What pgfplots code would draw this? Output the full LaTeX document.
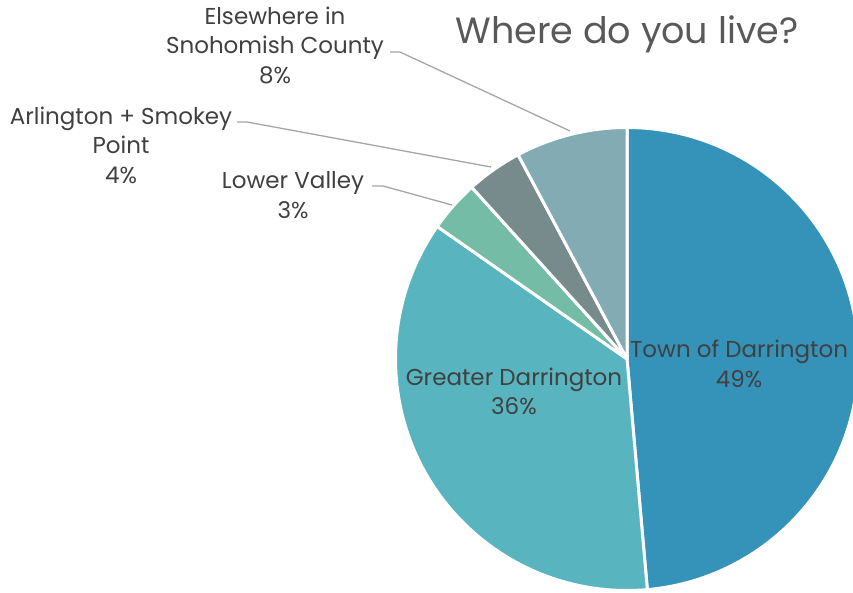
\documentclass[border=0pt]{standalone}
\usepackage{pgfplots}
\usepackage{pgfplotstable}
\pgfplotsset{compat=1.18}
\usepackage{fontspec}
\setmainfont{Poppins}
\definecolor{cTown}{HTML}{3592B8}
\definecolor{cGreater}{HTML}{58B4BE}
\definecolor{cLower}{HTML}{74BCA6}
\definecolor{cArl}{HTML}{778B8C}
\definecolor{cElse}{HTML}{83ABB4}
\definecolor{txt}{HTML}{404040}
\definecolor{ttl}{HTML}{595959}
\definecolor{lead}{HTML}{A6A6A6}
\pgfplotstableread[col sep=comma]{
region,value,color
Town of Darrington,48.6,cTown
Greater Darrington,36.1,cGreater
Lower Valley,3.6,cLower
Arlington + Smokey Point,3.9,cArl
Elsewhere in Snohomish County,7.8,cElse
}\piedata
\begin{document}
\begin{tikzpicture}
\begin{axis}[at={(0,0)}, anchor=south west, scale only axis,
  width=853pt, height=592pt, xmin=0, xmax=853, ymin=0, ymax=592,
  hide axis, clip=false]
\pgfplotsextra{
  \pgfplotstablegetrowsof{\piedata}
  \pgfmathtruncatemacro{\nrows}{\pgfplotsretval-1}
  \gdef\cumang{90}
  \foreach \i in {0,...,\nrows}{
    \pgfplotstablegetelem{\i}{value}\of{\piedata}
    \pgfmathsetmacro{\endang}{\cumang-3.6*\pgfplotsretval}
    \pgfplotstablegetelem{\i}{color}\of{\piedata}
    \edef\slicecolor{\pgfplotsretval}
    \fill[fill=\slicecolor, draw=white, line width=3pt, line join=round]
      (axis cs:627,233) -- ++(\cumang:231.5pt)
      arc[start angle=\cumang, end angle=\endang, radius=231.5pt] -- cycle;
    \xdef\cumang{\endang}
  }
}
\draw[lead, line width=1.3pt] (axis cs:390,540) -- (axis cs:400,540) -- (axis cs:570,461);
\draw[lead, line width=1.3pt] (axis cs:237,470) -- (axis cs:247,470) -- (axis cs:491,425);
\draw[lead, line width=1.3pt] (axis cs:372,406) -- (axis cs:383,406) -- (axis cs:452,387);
\node[text=ttl, font=\fontsize{36.5}{42}\selectfont] at (axis cs:627,558) {Where do you live?};
\node[text=txt, align=center, font=\fontsize{23}{29.5}\selectfont] at (axis cs:739,228) {Town of Darrington\\49\%};
\node[text=txt, align=center, font=\fontsize{23}{29.5}\selectfont] at (axis cs:514,200.5) {Greater Darrington\\36\%};
\node[text=txt, align=center, font=\fontsize{23}{29.5}\selectfont] at (axis cs:275,547) {Elsewhere in\\Snohomish County\\8\%};
\node[text=txt, align=center, font=\fontsize{23}{29.5}\selectfont] at (axis cs:121,447) {Arlington + Smokey\\Point\\4\%};
\node[text=txt, align=center, font=\fontsize{23}{29.5}\selectfont] at (axis cs:293,397) {Lower Valley\\3\%};
\end{axis}
\pgfresetboundingbox
\path[use as bounding box] (0,0) rectangle (853pt,592pt);
\end{tikzpicture}
\end{document}
